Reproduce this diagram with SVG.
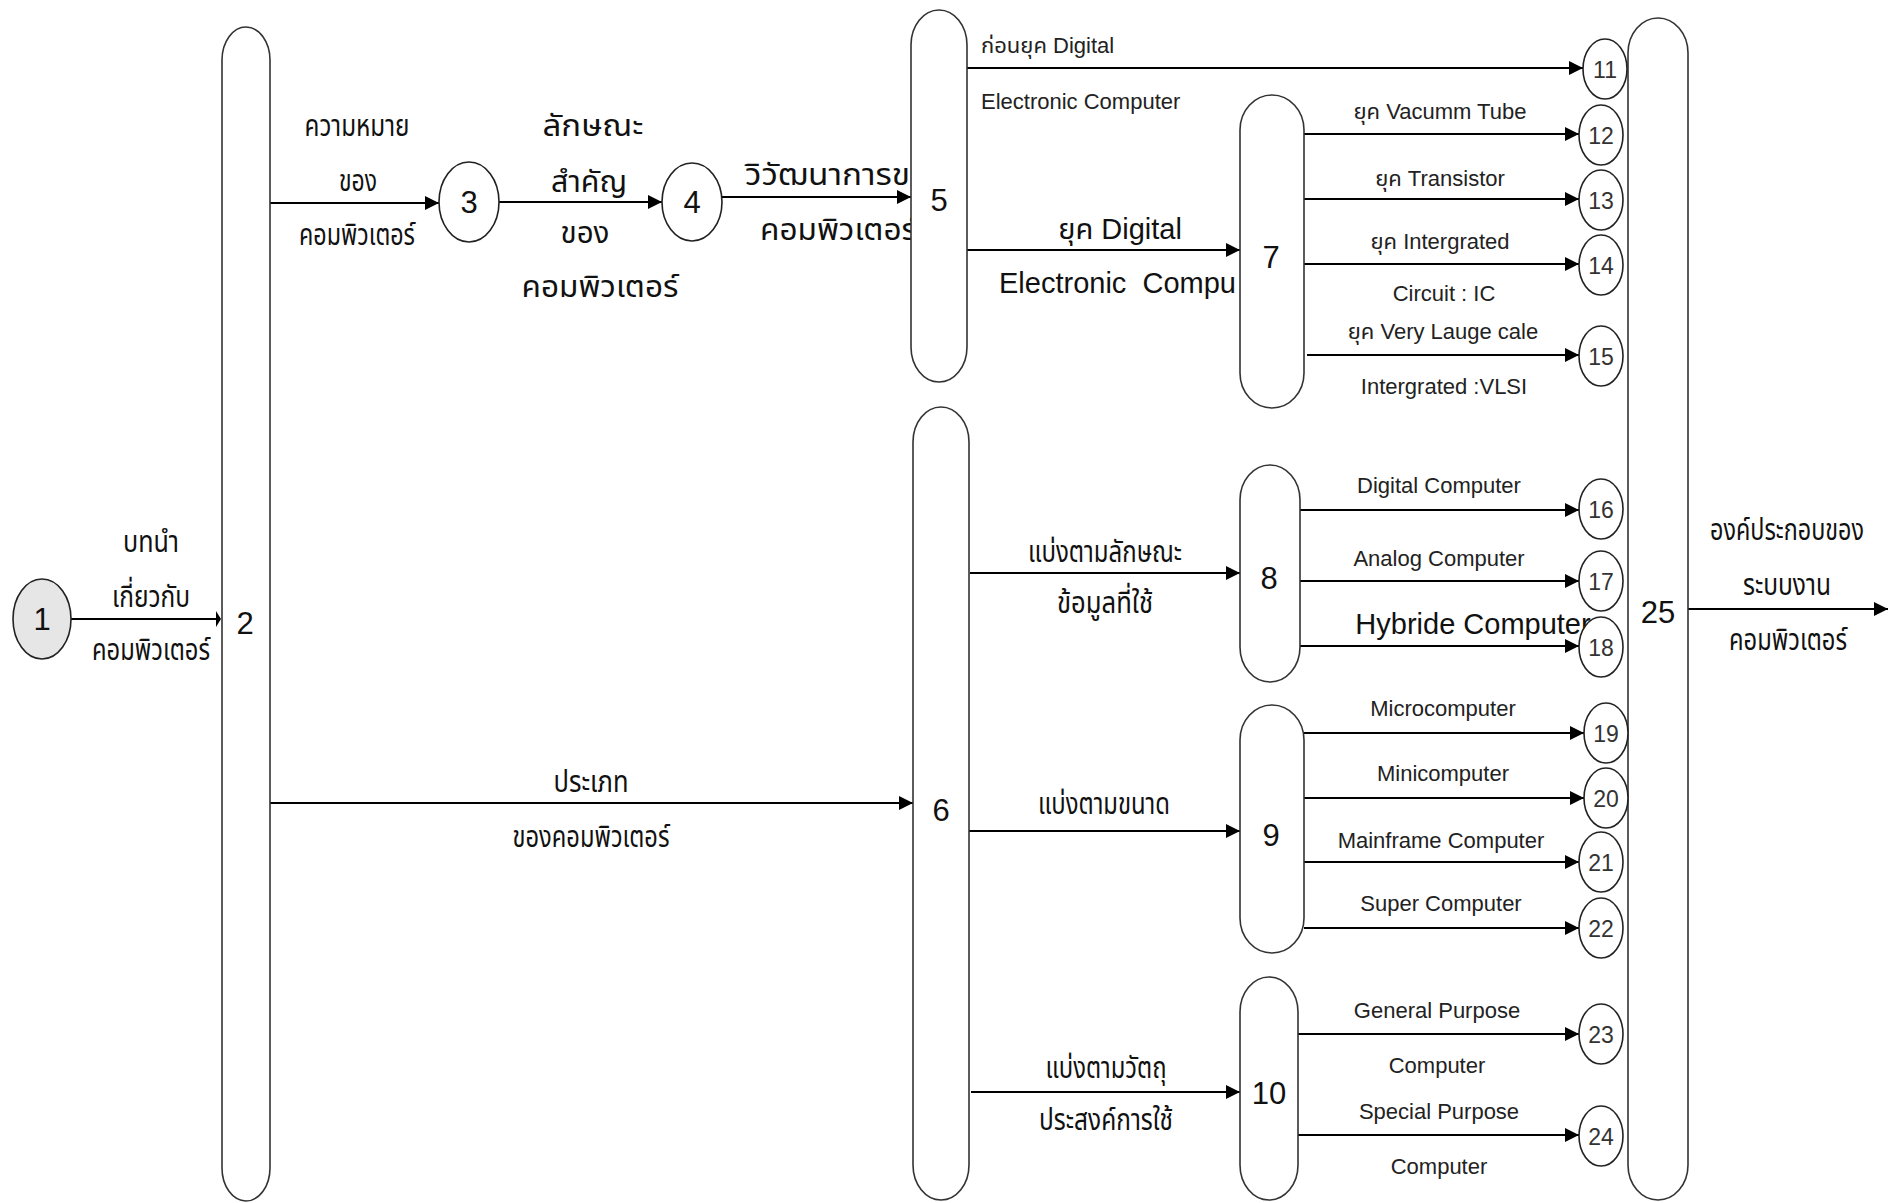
<svg xmlns="http://www.w3.org/2000/svg" width="1893" height="1203" viewBox="0 0 1893 1203">
<style>
.bg{fill:#fff}
.pill{fill:#fff;stroke:#333;stroke-width:1.6}
.ell{fill:#fff;stroke:#222;stroke-width:1.6}
.start{fill:#e6e6e6;stroke:#222;stroke-width:1.6}
.conn{stroke:#000;stroke-width:2;fill:none;marker-end:url(#arr)}
.th{font-family:"Noto Sans Thai","Noto Sans Thai UI","Loma","Garuda","Norasi","Noto Sans",sans-serif;font-size:30px;fill:#111;text-anchor:middle}
.en{font-family:"Liberation Sans",Arial,"Noto Sans Thai","Loma",sans-serif;font-size:22px;fill:#222;text-anchor:middle}
.big{font-size:29px;fill:#111}
.st{text-anchor:start}
.num{font-family:"Liberation Sans",Arial,sans-serif;font-size:31px;fill:#111;text-anchor:middle}
.snum{font-family:"Liberation Sans",Arial,sans-serif;font-size:23px;fill:#333;text-anchor:middle}
</style>
<defs>
<marker id="arr" markerUnits="userSpaceOnUse" markerWidth="15" markerHeight="16" refX="14" refY="7" orient="auto">
<path d="M0,0 L14,7 L0,14 Z" fill="#000"/>
</marker>
</defs>
<rect class="bg" x="0" y="0" width="1893" height="1203"/>

<g id="connectors">
<line class="conn" x1="71" y1="619" x2="216" y2="619" marker-end="none" style="marker-end:none"/>
<path d="M216,611 L221,619 L216,627 Z" fill="#000"/>
<line class="conn" x1="270" y1="203" x2="439" y2="203"/>
<line class="conn" x1="499" y1="202" x2="662" y2="202"/>
<line class="conn" x1="722" y1="197" x2="911" y2="197"/>
<line class="conn" x1="967" y1="68" x2="1583" y2="68"/>
<line class="conn" x1="967" y1="250" x2="1240" y2="250"/>
<line class="conn" x1="1304" y1="134" x2="1579" y2="134"/>
<line class="conn" x1="1304" y1="199" x2="1579" y2="199"/>
<line class="conn" x1="1304" y1="264" x2="1579" y2="264"/>
<line class="conn" x1="1307" y1="355" x2="1579" y2="355"/>
<line class="conn" x1="1300" y1="510" x2="1579" y2="510"/>
<line class="conn" x1="1300" y1="581" x2="1579" y2="581"/>
<line class="conn" x1="1300" y1="646" x2="1579" y2="646"/>
<line class="conn" x1="1304" y1="733" x2="1584" y2="733"/>
<line class="conn" x1="1304" y1="798" x2="1584" y2="798"/>
<line class="conn" x1="1304" y1="862" x2="1579" y2="862"/>
<line class="conn" x1="1304" y1="928" x2="1579" y2="928"/>
<line class="conn" x1="1298" y1="1034" x2="1579" y2="1034"/>
<line class="conn" x1="1298" y1="1135" x2="1579" y2="1135"/>
<line class="conn" x1="270" y1="803" x2="913" y2="803"/>
<line class="conn" x1="970" y1="573" x2="1240" y2="573"/>
<line class="conn" x1="968" y1="831" x2="1240" y2="831"/>
<line class="conn" x1="971" y1="1092" x2="1240" y2="1092"/>
<line class="conn" x1="1688" y1="609" x2="1888" y2="609"/>

<text class="th" x="151" y="552" textLength="56" lengthAdjust="spacingAndGlyphs">บทนำ</text>
<text class="th" x="151" y="607" textLength="78" lengthAdjust="spacingAndGlyphs">เกี่ยวกับ</text>
<text class="th" x="151" y="660" textLength="118" lengthAdjust="spacingAndGlyphs">คอมพิวเตอร์</text>

<text class="th" x="357" y="136" textLength="105" lengthAdjust="spacingAndGlyphs">ความหมาย</text>
<text class="th" x="358" y="191" textLength="38" lengthAdjust="spacingAndGlyphs">ของ</text>
<text class="th" x="357" y="245" textLength="116" lengthAdjust="spacingAndGlyphs">คอมพิวเตอร์</text>

<text class="th" x="593" y="136" textLength="101" lengthAdjust="spacingAndGlyphs">ลักษณะ</text>
<text class="th" x="589" y="192" textLength="76" lengthAdjust="spacingAndGlyphs">สำคัญ</text>
<text class="th" x="585" y="243" textLength="49" lengthAdjust="spacingAndGlyphs">ของ</text>
<text class="th" x="600" y="297" textLength="157" lengthAdjust="spacingAndGlyphs">คอมพิวเตอร์</text>

<text class="th st" x="745" y="185" textLength="165" lengthAdjust="spacingAndGlyphs">วิวัฒนาการข</text>
<text class="th st" x="760" y="240" textLength="157" lengthAdjust="spacingAndGlyphs">คอมพิวเตอร์</text>

<text class="en st" x="981" y="53">ก่อนยุค Digital</text>
<text class="en st" x="981" y="109">Electronic Computer</text>
<text class="en big" x="1120" y="239">ยุค Digital</text>
<text class="en big st" x="999" y="293" style="white-space:pre">Electronic  Compu</text>

<text class="en" x="1440" y="119">ยุค Vacumm Tube</text>
<text class="en" x="1440" y="186">ยุค Transistor</text>
<text class="en" x="1440" y="249">ยุค Intergrated</text>
<text class="en" x="1444" y="301">Circuit : IC</text>
<text class="en" x="1443" y="339">ยุค Very Lauge cale</text>
<text class="en" x="1444" y="394">Intergrated :VLSI</text>

<text class="th" x="591" y="792" textLength="75" lengthAdjust="spacingAndGlyphs">ประเภท</text>
<text class="th" x="591" y="847" textLength="157" lengthAdjust="spacingAndGlyphs">ของคอมพิวเตอร์</text>

<text class="th" x="1105" y="562" textLength="154" lengthAdjust="spacingAndGlyphs">แบ่งตามลักษณะ</text>
<text class="th" x="1105" y="613" textLength="96" lengthAdjust="spacingAndGlyphs">ข้อมูลที่ใช้</text>
<text class="th" x="1104" y="814" textLength="132" lengthAdjust="spacingAndGlyphs">แบ่งตามขนาด</text>
<text class="th" x="1106" y="1078" textLength="121" lengthAdjust="spacingAndGlyphs">แบ่งตามวัตถุ</text>
<text class="th" x="1106" y="1130" textLength="134" lengthAdjust="spacingAndGlyphs">ประสงค์การใช้</text>

<text class="en" x="1439" y="493">Digital Computer</text>
<text class="en" x="1439" y="566">Analog Computer</text>
<text class="en big" x="1473" y="634">Hybride Computer</text>
<text class="en" x="1443" y="716">Microcomputer</text>
<text class="en" x="1443" y="781">Minicomputer</text>
<text class="en" x="1441" y="848">Mainframe Computer</text>
<text class="en" x="1441" y="911">Super Computer</text>
<text class="en" x="1437" y="1018">General Purpose</text>
<text class="en" x="1437" y="1073">Computer</text>
<text class="en" x="1439" y="1119">Special Purpose</text>
<text class="en" x="1439" y="1174">Computer</text>

<text class="th" x="1787" y="540" textLength="154" lengthAdjust="spacingAndGlyphs">องค์ประกอบของ</text>
<text class="th" x="1787" y="595" textLength="88" lengthAdjust="spacingAndGlyphs">ระบบงาน</text>
<text class="th" x="1788" y="650" textLength="118" lengthAdjust="spacingAndGlyphs">คอมพิวเตอร์</text>
</g>

<g id="n1"><ellipse class="start" cx="42" cy="619" rx="29" ry="40"/><text class="num" x="42" y="630">1</text></g>
<g id="n2"><path class="pill" d="M222,60 A24,33 0 0 1 270,60 V1168 A24,33 0 0 1 222,1168 Z"/><text class="num" x="245" y="634">2</text></g>
<g id="n3"><ellipse class="ell" cx="469" cy="202" rx="30" ry="40"/><text class="num" x="469" y="213">3</text></g>
<g id="n4"><ellipse class="ell" cx="692" cy="202" rx="30" ry="39"/><text class="num" x="692" y="213">4</text></g>
<g id="n5"><path class="pill" d="M911,45 A28,35 0 0 1 967,45 V347 A28,35 0 0 1 911,347 Z"/><text class="num" x="939" y="211">5</text></g>
<g id="n6"><path class="pill" d="M913,442 A28,35 0 0 1 969,442 V1165 A28,35 0 0 1 913,1165 Z"/><text class="num" x="941" y="821">6</text></g>
<g id="n7"><path class="pill" d="M1240,130 A32,35 0 0 1 1304,130 V373 A32,35 0 0 1 1240,373 Z"/><text class="num" x="1271" y="268">7</text></g>
<g id="n8"><path class="pill" d="M1240,500 A30,35 0 0 1 1300,500 V647 A30,35 0 0 1 1240,647 Z"/><text class="num" x="1269" y="589">8</text></g>
<g id="n9"><path class="pill" d="M1240,740 A32,35 0 0 1 1304,740 V918 A32,35 0 0 1 1240,918 Z"/><text class="num" x="1271" y="846">9</text></g>
<g id="n10"><path class="pill" d="M1240,1012 A29,35 0 0 1 1298,1012 V1165 A29,35 0 0 1 1240,1165 Z"/><text class="num" x="1269" y="1104">10</text></g>
<g id="n25"><path class="pill" d="M1628,53 A30,35 0 0 1 1688,53 V1165 A30,35 0 0 1 1628,1165 Z"/><text class="num" x="1658" y="623">25</text></g>

<g id="n11"><ellipse class="ell" cx="1605" cy="69" rx="22" ry="30"/><text class="snum" x="1605" y="78">11</text></g>
<g id="n12"><ellipse class="ell" cx="1601" cy="135" rx="22" ry="30"/><text class="snum" x="1601" y="144">12</text></g>
<g id="n13"><ellipse class="ell" cx="1601" cy="200" rx="22" ry="30"/><text class="snum" x="1601" y="209">13</text></g>
<g id="n14"><ellipse class="ell" cx="1601" cy="265" rx="22" ry="30"/><text class="snum" x="1601" y="274">14</text></g>
<g id="n15"><ellipse class="ell" cx="1601" cy="356" rx="22" ry="30"/><text class="snum" x="1601" y="365">15</text></g>
<g id="n16"><ellipse class="ell" cx="1601" cy="509" rx="22" ry="30"/><text class="snum" x="1601" y="518">16</text></g>
<g id="n17"><ellipse class="ell" cx="1601" cy="581" rx="22" ry="30"/><text class="snum" x="1601" y="590">17</text></g>
<g id="n18"><ellipse class="ell" cx="1601" cy="647" rx="22" ry="30"/><text class="snum" x="1601" y="656">18</text></g>
<g id="n19"><ellipse class="ell" cx="1606" cy="733" rx="22" ry="30"/><text class="snum" x="1606" y="742">19</text></g>
<g id="n20"><ellipse class="ell" cx="1606" cy="798" rx="22" ry="30"/><text class="snum" x="1606" y="807">20</text></g>
<g id="n21"><ellipse class="ell" cx="1601" cy="862" rx="22" ry="30"/><text class="snum" x="1601" y="871">21</text></g>
<g id="n22"><ellipse class="ell" cx="1601" cy="928" rx="22" ry="30"/><text class="snum" x="1601" y="937">22</text></g>
<g id="n23"><ellipse class="ell" cx="1601" cy="1034" rx="22" ry="30"/><text class="snum" x="1601" y="1043">23</text></g>
<g id="n24"><ellipse class="ell" cx="1601" cy="1136" rx="22" ry="30"/><text class="snum" x="1601" y="1145">24</text></g>
</svg>
